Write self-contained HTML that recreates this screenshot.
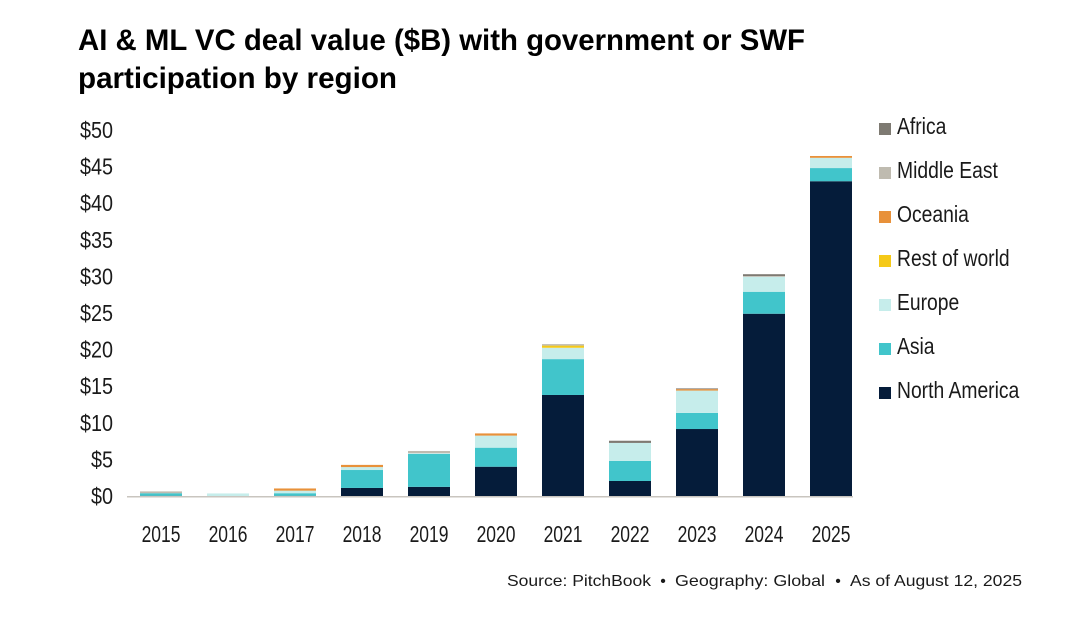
<!DOCTYPE html>
<html><head><meta charset="utf-8"><title>AI &amp; ML VC deal value</title>
<style>
html,body{margin:0;padding:0;background:#fff;width:1080px;height:622px;overflow:hidden}
svg{display:block}
text{font-family:"Liberation Sans",sans-serif;fill:#1a1a1a}
</style></head>
<body>
<svg id="chart" xmlns="http://www.w3.org/2000/svg" width="1080" height="622" viewBox="0 0 1080 622">
<text x="78" y="50" font-size="30" font-weight="700" style="fill:#000" textLength="727" lengthAdjust="spacingAndGlyphs">AI &amp; ML VC deal value ($B) with government or SWF</text>
<text x="78" y="88" font-size="30" font-weight="700" style="fill:#000" textLength="319" lengthAdjust="spacingAndGlyphs">participation by region</text>
<g font-size="16">
<text x="507" y="586" textLength="144" lengthAdjust="spacingAndGlyphs">Source: PitchBook</text>
<text x="663" y="586" text-anchor="middle">•</text>
<text x="675" y="586" textLength="150" lengthAdjust="spacingAndGlyphs">Geography: Global</text>
<text x="838" y="586" text-anchor="middle">•</text>
<text x="850" y="586" textLength="172" lengthAdjust="spacingAndGlyphs">As of August 12, 2025</text>
</g>
<g id="bars"></g>
<rect x="127" y="496" width="726" height="1.5" fill="#c9c5bf"></rect>
<g id="yticks"></g>
<g id="xticks"></g>
<g id="legend"></g>
</svg>
<script>
const years = ['2015','2016','2017','2018','2019','2020','2021','2022','2023','2024','2025'];
const yTickValues = [0,5,10,15,20,25,30,35,40,45,50];
const seriesNames = ['North America','Asia','Europe','Rest of world','Oceania','Middle East','Africa'];
const northAmerica = [0.03,0,0.03,1.1,1.25,4.0,13.8,2.05,9.15,24.9,43.0];
const asia = [0.35,0,0.35,2.45,4.5,2.6,4.9,2.75,2.2,3.0,1.8];
const europe = [0,0.35,0.35,0.4,0.1,1.65,1.55,2.45,3.05,2.05,1.4];
const restOfWorld = [0,0,0,0,0,0,0.3,0,0,0,0];
const oceania = [0,0,0.3,0.3,0,0.3,0,0,0.2,0,0.25];
const middleEast = [0.25,0,0,0,0.3,0,0.2,0,0,0.1,0];
const africa = [0,0,0,0,0,0,0,0.3,0.1,0.25,0];
const seriesValues = [northAmerica,asia,europe,restOfWorld,oceania,middleEast,africa];
const seriesColors = ['#051c3a','#41c5cb','#c6edeb','#f5c918','#e8913a','#bfbbb0','#7e7a72'];

const NS = 'http://www.w3.org/2000/svg';
const yScale = v => 496 - v * 7.32;
const xScale = i => 161 + i * 67;
const BAR_W = 42;

function label(parent, x, y, str, anchor, size, narrow) {
  const t = document.createElementNS(NS, 'text');
  t.setAttribute('transform', 'translate(' + x + ',' + y + ') scale(' + narrow + ',1)');
  t.setAttribute('text-anchor', anchor);
  t.setAttribute('font-size', size);
  t.textContent = str;
  parent.appendChild(t);
  return t;
}

const barsG = document.getElementById('bars');
years.forEach((yr, i) => {
  let cum = 0;
  seriesValues.forEach((vals, s) => {
    const v = vals[i];
    if (!v) return;
    const top = yScale(cum + v), bottom = yScale(cum);
    const r = document.createElementNS(NS, 'rect');
    
    
    r.setAttribute('x', xScale(i) - BAR_W / 2);
    r.setAttribute('y', top);
    r.setAttribute('width', BAR_W);
    r.setAttribute('height', bottom - top);
    r.setAttribute('fill', seriesColors[s]);
    barsG.appendChild(r);
    cum += v;
  });
});

const yG = document.getElementById('yticks');
yTickValues.forEach(v => {
  const t = label(yG, 113, yScale(v) + 8, '$' + v, 'end', 23, 0.86);
  
  
});

const xG = document.getElementById('xticks');
years.forEach((yr, i) => {
  const t = label(xG, xScale(i), 542, yr, 'middle', 23, 0.76);
  
  
});

const legG = document.getElementById('legend');
const legendOrder = [6,5,4,3,2,1,0];
legendOrder.forEach((s, k) => {
  const y = 123 + k * 44;
  const r = document.createElementNS(NS, 'rect');
  
  
  r.setAttribute('x', 879);
  r.setAttribute('y', y);
  r.setAttribute('width', 12);
  r.setAttribute('height', 12);
  r.setAttribute('fill', seriesColors[s]);
  legG.appendChild(r);
  const t = label(legG, 897, y + 11, seriesNames[s], 'start', 23, 0.84);
  
  
});
</script>
</body></html>
